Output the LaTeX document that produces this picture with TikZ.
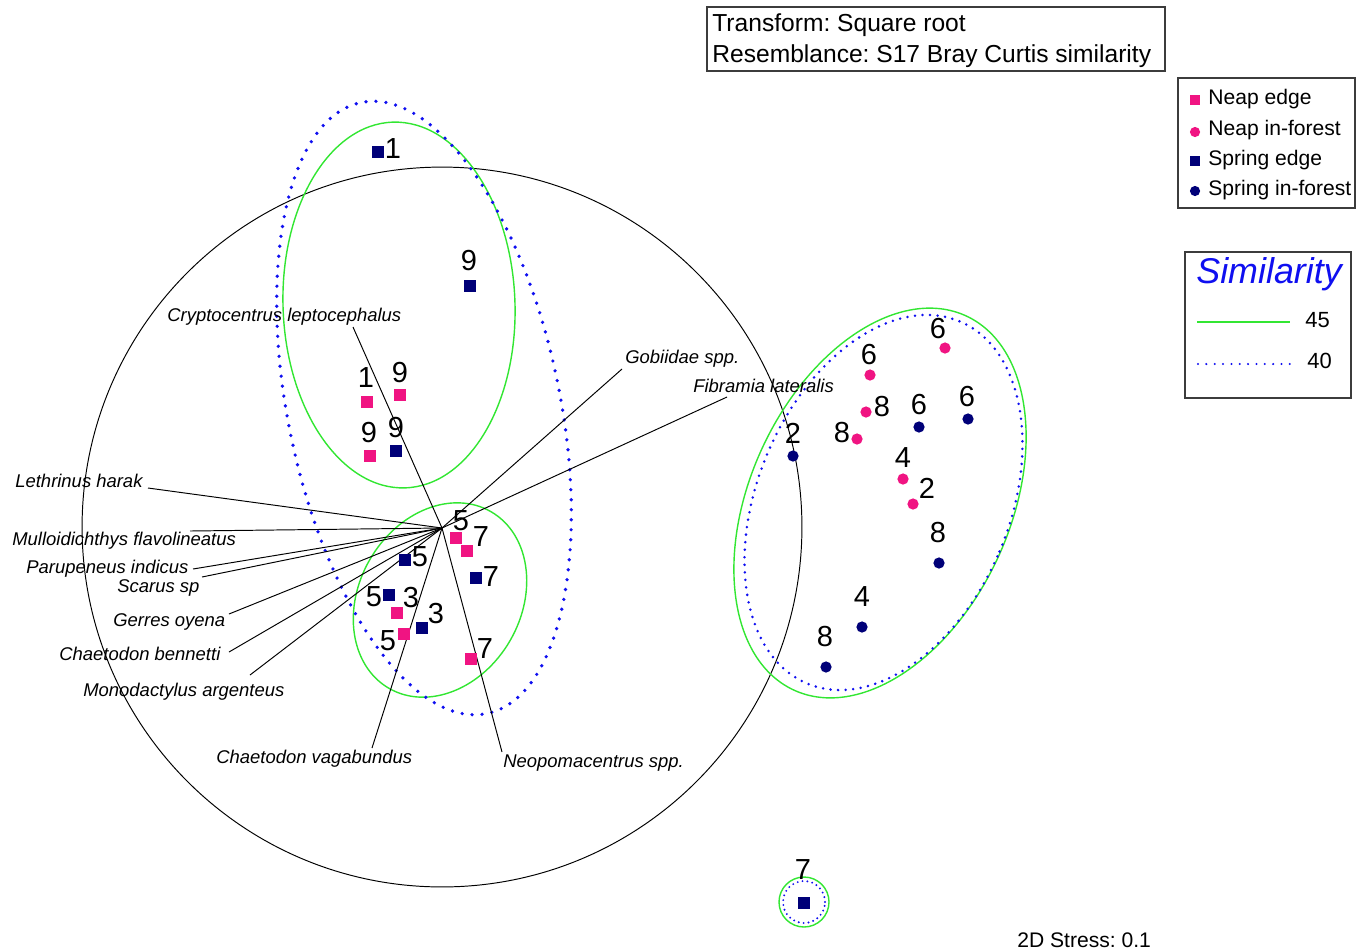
\documentclass[tikz,border=0pt]{standalone}
\usepackage{fontspec}
\setmainfont{Liberation Sans}
\frenchspacing
\definecolor{neap}{RGB}{240,20,130}
\definecolor{spring}{RGB}{0,0,120}
\definecolor{simgreen}{RGB}{50,230,50}
\definecolor{simblue}{RGB}{15,15,240}
\definecolor{boxgray}{RGB}{60,60,60}
\begin{document}
\begin{tikzpicture}[x=0.02cm,y=-0.02cm,
  sq/.style={rectangle,minimum size=6.6pt,inner sep=0,fill=#1},
  ci/.style={circle,minimum size=6.4pt,inner sep=0,fill=#1},
  lsq/.style={rectangle,minimum size=6pt,inner sep=0,fill=#1},
  lci/.style={circle,minimum size=5.8pt,inner sep=0,fill=#1},
  num/.style={inner sep=0,font=\fontsize{16.5}{16.5}\selectfont},
  sp/.style={inner sep=0,anchor=base west,font=\fontsize{10.5}{10.5}\selectfont\itshape},
  lg/.style={inner sep=0,anchor=base west,font=\fontsize{12}{12}\selectfont},
  vec/.style={line width=0.55pt},
  g45/.style={draw=simgreen,line width=0.8pt},
  d40/.style={draw=simblue,line width=1.7pt,line cap=round,dash pattern=on 0pt off #1},
  d40/.default=5.6pt,
  boxline/.style={draw=boxgray,line width=0.7pt},
]
\useasboundingbox (0,0) rectangle (1364,951);

% big black circle
\draw[line width=0.55pt] (442,527) circle[radius=7.2cm];

% similarity contours
\draw[g45,rotate around={2:(399,305)}] (399,305) ellipse[x radius=2.32cm,y radius=3.66cm];
\draw[g45,rotate around={-30:(440,600)}] (440,600) ellipse[x radius=1.62cm,y radius=2.04cm];
\draw[g45,rotate around={-24.7:(880,503)}] (880,503) ellipse[x radius=2.6cm,y radius=4.12cm];
\draw[g45] (804,902) circle[radius=0.5cm];
\draw[d40=5.7pt,line width=2.1pt,rotate around={11.65:(424,408)}] (424,408) ellipse[x radius=2.72cm,y radius=6.24cm];
\draw[d40=4.3pt,line width=1.6pt,rotate around={-22.9:(883.5,502.5)}] (883.5,502.5) ellipse[x radius=2.52cm,y radius=3.93cm];
\draw[d40=2.8pt,line width=1.2pt] (804,902) circle[radius=0.42cm];

% vectors
\coordinate (o) at (442,528);
\coordinate (eCry) at (353,327);
\coordinate (eGob) at (622,369);
\coordinate (eFib) at (727,397);
\coordinate (eLet) at (148,488);
\coordinate (eMul) at (190,531);
\coordinate (ePar) at (193,569);
\coordinate (eSca) at (202,577);
\coordinate (eGer) at (229,614);
\coordinate (eCbe) at (229,652);
\coordinate (eMon) at (250,675);
\coordinate (eCva) at (372,748);
\coordinate (eNeo) at (502,752);
\foreach \e in {eCry,eGob,eFib,eLet,eMul,ePar,eSca,eGer,eCbe,eMon,eCva,eNeo}
  \draw[vec] (o) -- (\e);

\node[sp] (tCry) at (167,321) {Cryptocentrus leptocephalus};
\node[sp] (tGob) at (625,363) {Gobiidae spp.};
\node[sp] (tFib) at (693,392) {Fibramia lateralis};
\node[sp] (tLet) at (15,487) {Lethrinus harak};
\node[sp] (tMul) at (12,545) {Mulloidichthys flavolineatus};
\node[sp] (tPar) at (26,573) {Parupeneus indicus};
\node[sp] (tSca) at (117,592) {Scarus sp};
\node[sp] (tGer) at (113,626) {Gerres oyena};
\node[sp] (tCbe) at (59,660) {Chaetodon bennetti};
\node[sp] (tMon) at (83,696) {Monodactylus argenteus};
\node[sp] (tCva) at (216,763) {Chaetodon vagabundus};
\node[sp] (tNeo) at (503,767) {Neopomacentrus spp.};

% samples: upper-left cluster
\node[sq=spring] (s1) at (378,152) {};  \node[num] (n1) at (393,149) {1};
\node[sq=spring] (s2) at (470,286) {};  \node[num] (n2) at (469,261) {9};
\node[sq=neap]   (s3) at (367,402) {};  \node[num] (n3) at (366,378) {1};
\node[sq=neap]   (s4) at (400,395) {};  \node[num] (n4) at (400,373) {9};
\node[sq=neap]   (s5) at (370,456) {};  \node[num] (n5) at (369,433) {9};
\node[sq=spring] (s6) at (396,451) {};  \node[num] (n6) at (396,428) {9};

% middle cluster
\node[sq=neap]   (s7)  at (456,538) {}; \node[num] (n7)  at (461,521) {5};
\node[sq=neap]   (s8)  at (467,551) {}; \node[num] (n8)  at (481,537) {7};
\node[sq=spring] (s9)  at (476,578) {}; \node[num] (n9)  at (491,577) {7};
\node[sq=spring] (s10) at (405,560) {}; \node[num] (n10) at (420,557) {5};
\node[sq=spring] (s11) at (389,595) {}; \node[num] (n11) at (374,597) {5};
\node[sq=neap]   (s12) at (397,613) {}; \node[num] (n12) at (411,598) {3};
\node[sq=spring] (s13) at (422,628) {}; \node[num] (n13) at (436,614) {3};
\node[sq=neap]   (s14) at (404,634) {}; \node[num] (n14) at (388,641) {5};
\node[sq=neap]   (s15) at (471,659) {}; \node[num] (n15) at (485,649) {7};

% right cluster
\node[ci=neap]   (s16) at (945,348) {}; \node[num] (n16) at (938,329) {6};
\node[ci=neap]   (s17) at (870,375) {}; \node[num] (n17) at (869,355) {6};
\node[ci=neap]   (s18) at (866,412) {}; \node[num] (n18) at (882,407) {8};
\node[ci=spring] (s19) at (919,427) {}; \node[num] (n19) at (919,405) {6};
\node[ci=spring] (s20) at (968,419) {}; \node[num] (n20) at (967,397) {6};
\node[ci=neap]   (s21) at (857,439) {}; \node[num] (n21) at (842,433) {8};
\node[ci=spring] (s22) at (793,456) {}; \node[num] (n22) at (793,433) {2};
\node[ci=neap]   (s23) at (903,479) {}; \node[num] (n23) at (903,458) {4};
\node[ci=neap]   (s24) at (913,504) {}; \node[num] (n24) at (927,488) {2};
\node[ci=spring] (s25) at (939,563) {}; \node[num] (n25) at (938,533) {8};
\node[ci=spring] (s26) at (862,627) {}; \node[num] (n26) at (862,597) {4};
\node[ci=spring] (s27) at (826,667) {}; \node[num] (n27) at (825,637) {8};

% isolated sample
\node[sq=spring] (s28) at (804,903) {}; \node[num] (n28) at (803,870) {7};

% header box
\draw[boxline] (707,7) rectangle (1165,71);
\node[inner sep=0,anchor=base west,font=\fontsize{14}{14}\selectfont] (h1) at (712,31) {Transform: Square root};
\node[inner sep=0,anchor=base west,font=\fontsize{14}{14}\selectfont] (h2) at (712,62) {Resemblance: S17 Bray Curtis similarity};

% legend of samples
\draw[boxline] (1178,78) rectangle (1355,208);
\node[lsq=neap]   (k1) at (1195,100) {}; \node[lg] (kt1) at (1208,104) {Neap edge};
\node[lci=neap]   (k2) at (1195,132) {}; \node[lg] (kt2) at (1208,135) {Neap in-forest};
\node[lsq=spring] (k3) at (1195,161) {}; \node[lg] (kt3) at (1208,165) {Spring edge};
\node[lci=spring] (k4) at (1195,191) {}; \node[lg] (kt4) at (1208,195) {Spring in-forest};

% legend of similarity
\draw[boxline] (1185,252) rectangle (1351,398);
\node[inner sep=0,anchor=base west,text=simblue,font=\fontsize{20.4}{20.4}\selectfont\itshape] (sim) at (1196,283) {Similarity};
\coordinate (ga) at (1197,322); \coordinate (gb) at (1290,322);
\draw[g45] (ga) -- (gb);
\node[lg,font=\fontsize{12.5}{12.5}\selectfont] (k45) at (1305,327) {45};
\coordinate (da) at (1198,364); \coordinate (db) at (1290,364);
\draw[d40=4.75pt,line width=1.3pt] (da) -- (db);
\node[lg,font=\fontsize{12.5}{12.5}\selectfont] (k40) at (1307,368) {40};

% stress
\node[lg] (stress) at (1017,947) {2D Stress: 0.1};
\end{tikzpicture}
\end{document}
